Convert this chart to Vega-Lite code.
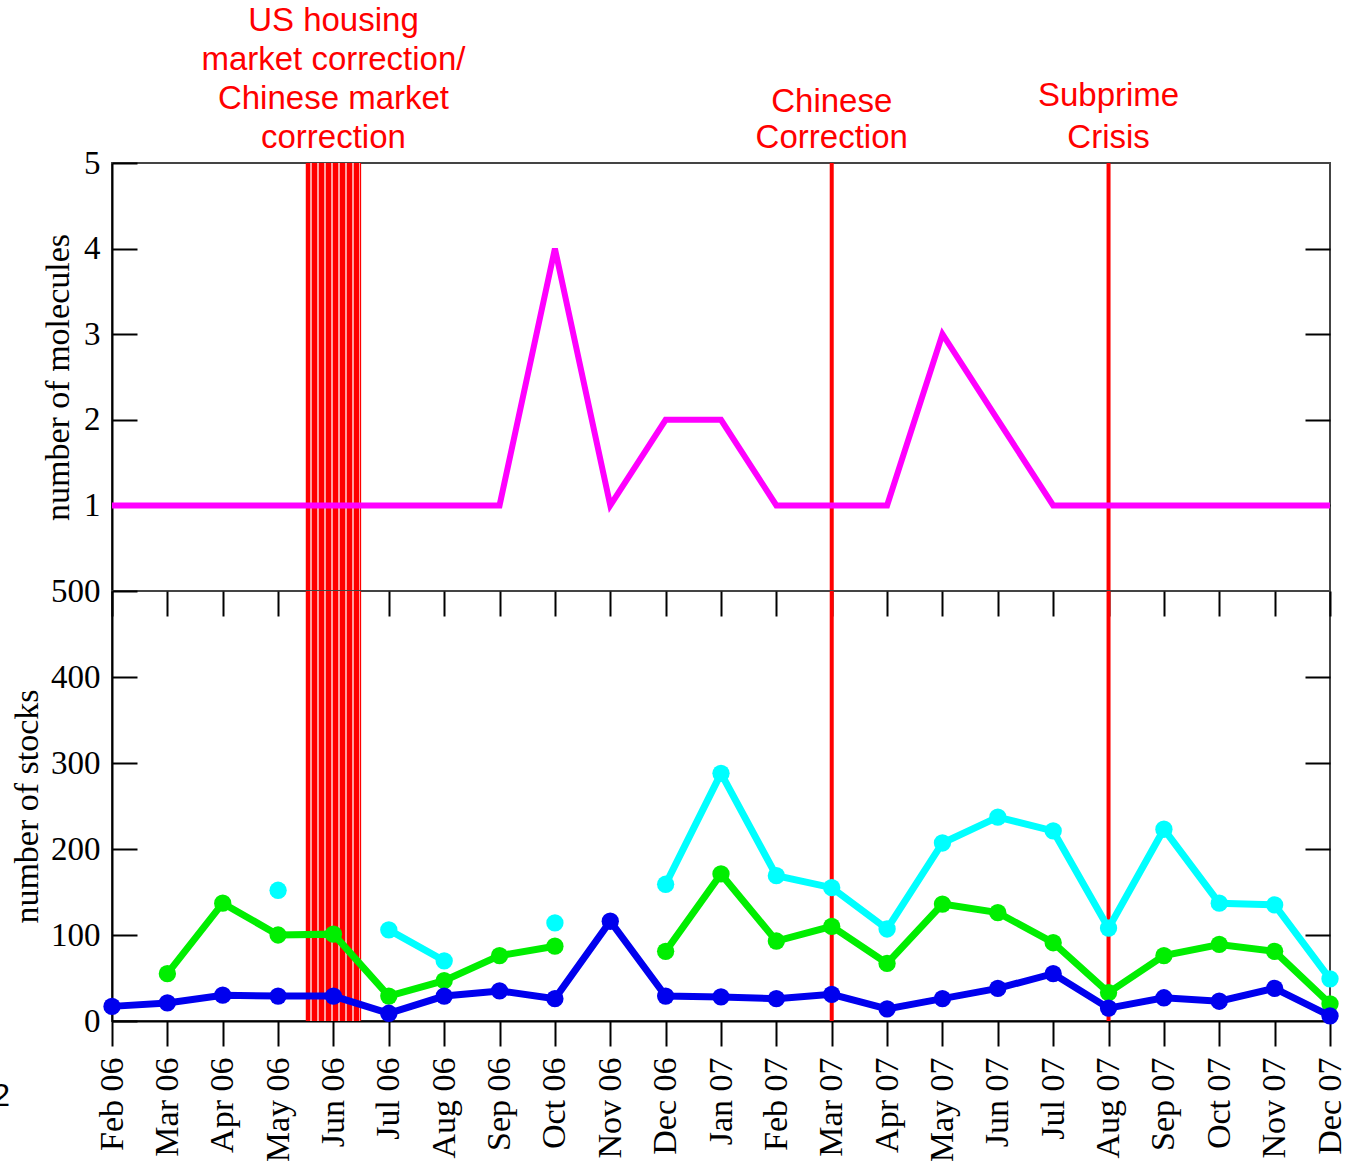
{
  "$schema": "https://vega.github.io/schema/vega-lite/v6.json",
  "padding": {"left": -9, "top": 4, "right": 0, "bottom": 0},
  "spacing": 0,
  "bounds": "flush",
  "datasets": {
    "molecules": [
      {"m": 0, "v": 1}, {"m": 1, "v": 1}, {"m": 2, "v": 1}, {"m": 3, "v": 1},
      {"m": 4, "v": 1}, {"m": 5, "v": 1}, {"m": 6, "v": 1}, {"m": 7, "v": 1},
      {"m": 8, "v": 4}, {"m": 9, "v": 1}, {"m": 10, "v": 2}, {"m": 11, "v": 2},
      {"m": 12, "v": 1}, {"m": 13, "v": 1}, {"m": 14, "v": 1}, {"m": 15, "v": 3},
      {"m": 16, "v": 2}, {"m": 17, "v": 1}, {"m": 18, "v": 1}, {"m": 19, "v": 1},
      {"m": 20, "v": 1}, {"m": 21, "v": 1}, {"m": 22, "v": 1}
    ],
    "stocks": [
      {"m": 0, "blue": 17, "green": null, "cyan": null},
      {"m": 1, "blue": 21, "green": 55, "cyan": null},
      {"m": 2, "blue": 30, "green": 137, "cyan": null},
      {"m": 3, "blue": 29, "green": 100, "cyan": 152},
      {"m": 4, "blue": 29, "green": 101, "cyan": null},
      {"m": 5, "blue": 9, "green": 29, "cyan": 106},
      {"m": 6, "blue": 29, "green": 47, "cyan": 70},
      {"m": 7, "blue": 35, "green": 76, "cyan": null},
      {"m": 8, "blue": 26, "green": 87, "cyan": 114},
      {"m": 9, "blue": 116, "green": null, "cyan": null},
      {"m": 10, "blue": 29, "green": 81, "cyan": 159},
      {"m": 11, "blue": 28, "green": 171, "cyan": 288},
      {"m": 12, "blue": 26, "green": 93, "cyan": 169},
      {"m": 13, "blue": 31, "green": 110, "cyan": 155},
      {"m": 14, "blue": 14, "green": 67, "cyan": 107},
      {"m": 15, "blue": 26, "green": 136, "cyan": 207},
      {"m": 16, "blue": 38, "green": 126, "cyan": 237},
      {"m": 17, "blue": 55, "green": 91, "cyan": 221},
      {"m": 18, "blue": 15, "green": 33, "cyan": 108},
      {"m": 19, "blue": 27, "green": 76, "cyan": 223},
      {"m": 20, "blue": 23, "green": 89, "cyan": 137},
      {"m": 21, "blue": 38, "green": 81, "cyan": 135},
      {"m": 22, "blue": 6, "green": 20, "cyan": 49}
    ],
    "band": [{"from": 3.5, "to": 4.5}],
    "events": [{"m": 13}, {"m": 18}],
    "notes": [
      {"m": 4, "label": "US housing\nmarket correction/\nChinese market\ncorrection"},
      {"m": 13, "label": "Chinese\nCorrection"},
      {"m": 18, "label": "Subprime\nCrisis"}
    ],
    "panel": [{"label": "2"}]
  },
  "config": {
    "view": {"stroke": "#444", "strokeWidth": 2},
    "axis": {
      "grid": false,
      "labelFont": "Liberation Serif",
      "labelFontSize": 33,
      "labelColor": "#000",
      "titleFont": "Liberation Serif",
      "titleFontSize": 34,
      "titleFontWeight": "normal",
      "titleColor": "#000",
      "tickColor": "#000",
      "tickWidth": 2,
      "domainColor": "#000",
      "domainWidth": 2
    }
  },
  "vconcat": [
    {
      "width": 1218,
      "height": 428,
      "resolve": {"axis": {"y": "independent"}},
      "layer": [
        {
          "data": {"name": "band"},
          "mark": {
            "type": "rect",
            "fill": {
              "gradient": "linear",
              "stops": [
                {"offset": 0, "color": "#ff0000"}, {"offset": 0.08, "color": "#ff0000"}, {"offset": 0.08, "color": "#ffa0a0"}, {"offset": 0.115, "color": "#ffa0a0"},
                {"offset": 0.115, "color": "#ff0000"}, {"offset": 0.205, "color": "#ff0000"}, {"offset": 0.205, "color": "#ffa0a0"}, {"offset": 0.24, "color": "#ffa0a0"},
                {"offset": 0.24, "color": "#ff0000"}, {"offset": 0.33, "color": "#ff0000"}, {"offset": 0.33, "color": "#ffa0a0"}, {"offset": 0.365, "color": "#ffa0a0"},
                {"offset": 0.365, "color": "#ff0000"}, {"offset": 0.455, "color": "#ff0000"}, {"offset": 0.455, "color": "#ffa0a0"}, {"offset": 0.49, "color": "#ffa0a0"},
                {"offset": 0.49, "color": "#ff0000"}, {"offset": 0.58, "color": "#ff0000"}, {"offset": 0.58, "color": "#ffa0a0"}, {"offset": 0.615, "color": "#ffa0a0"},
                {"offset": 0.615, "color": "#ff0000"}, {"offset": 0.705, "color": "#ff0000"}, {"offset": 0.705, "color": "#ffa0a0"}, {"offset": 0.74, "color": "#ffa0a0"},
                {"offset": 0.74, "color": "#ff0000"}, {"offset": 0.83, "color": "#ff0000"}, {"offset": 0.83, "color": "#ffa0a0"}, {"offset": 0.865, "color": "#ffa0a0"},
                {"offset": 0.865, "color": "#ff0000"}, {"offset": 0.955, "color": "#ff0000"}, {"offset": 0.955, "color": "#ffa0a0"}, {"offset": 0.975, "color": "#ffa0a0"},
                {"offset": 0.975, "color": "#ff0000"}, {"offset": 1, "color": "#ff0000"}
              ]
            }
          },
          "encoding": {
            "x": {"field": "from", "type": "quantitative", "scale": {"domain": [0, 22], "nice": false, "zero": false}, "axis": null},
            "x2": {"field": "to"}
          }
        },
        {
          "data": {"name": "events"},
          "mark": {"type": "rule", "color": "#ff0000", "strokeWidth": 4},
          "encoding": {
            "x": {"field": "m", "type": "quantitative", "axis": null}
          }
        },
        {
          "data": {"name": "molecules"},
          "mark": {"type": "line", "color": "#ff00ff", "strokeWidth": 6},
          "encoding": {
            "x": {"field": "m", "type": "quantitative", "axis": null},
            "y": {
              "field": "v", "type": "quantitative",
              "scale": {"domain": [0, 5], "nice": false, "zero": false},
              "axis": {"orient": "left", "values": [1, 2, 3, 4, 5], "tickSize": -25, "labelPadding": 37, "labelFlush": false, "title": "number of molecules", "titlePadding": 8}
            }
          }
        },
        {
          "data": {"name": "molecules"},
          "mark": {"type": "point", "opacity": 0},
          "encoding": {
            "x": {"field": "m", "type": "quantitative", "axis": null},
            "y": {
              "field": "v", "type": "quantitative",
              "scale": {"domain": [0, 5], "nice": false, "zero": false},
              "axis": {"orient": "right", "values": [1, 2, 3, 4], "tickSize": -25, "labels": false, "title": null, "domain": false}
            }
          }
        },
        {
          "data": {"name": "notes"},
          "transform": [{"filter": "datum.m == 4"}],
          "mark": {"type": "text", "color": "#ff0000", "font": "Liberation Sans", "fontSize": 33, "lineBreak": "\n", "lineHeight": 39, "align": "center", "baseline": "middle", "dy": -142},
          "encoding": {
            "x": {"field": "m", "type": "quantitative", "axis": null},
            "y": {"datum": 5, "type": "quantitative", "axis": null},
            "text": {"field": "label"}
          }
        },
        {
          "data": {"name": "notes"},
          "transform": [{"filter": "datum.m == 13"}],
          "mark": {"type": "text", "color": "#ff0000", "font": "Liberation Sans", "fontSize": 33, "lineBreak": "\n", "lineHeight": 36, "align": "center", "baseline": "middle", "dy": -61},
          "encoding": {
            "x": {"field": "m", "type": "quantitative", "axis": null},
            "y": {"datum": 5, "type": "quantitative", "axis": null},
            "text": {"field": "label"}
          }
        },
        {
          "data": {"name": "notes"},
          "transform": [{"filter": "datum.m == 18"}],
          "mark": {"type": "text", "color": "#ff0000", "font": "Liberation Sans", "fontSize": 33, "lineBreak": "\n", "lineHeight": 42, "align": "center", "baseline": "middle", "dy": -67},
          "encoding": {
            "x": {"field": "m", "type": "quantitative", "axis": null},
            "y": {"datum": 5, "type": "quantitative", "axis": null},
            "text": {"field": "label"}
          }
        }
      ]
    },
    {
      "width": 1218,
      "height": 430,
      "resolve": {"axis": {"x": "independent", "y": "independent"}},
      "layer": [
        {
          "data": {"name": "band"},
          "mark": {
            "type": "rect",
            "fill": {
              "gradient": "linear",
              "stops": [
                {"offset": 0, "color": "#ff0000"}, {"offset": 0.08, "color": "#ff0000"}, {"offset": 0.08, "color": "#ffa0a0"}, {"offset": 0.115, "color": "#ffa0a0"},
                {"offset": 0.115, "color": "#ff0000"}, {"offset": 0.205, "color": "#ff0000"}, {"offset": 0.205, "color": "#ffa0a0"}, {"offset": 0.24, "color": "#ffa0a0"},
                {"offset": 0.24, "color": "#ff0000"}, {"offset": 0.33, "color": "#ff0000"}, {"offset": 0.33, "color": "#ffa0a0"}, {"offset": 0.365, "color": "#ffa0a0"},
                {"offset": 0.365, "color": "#ff0000"}, {"offset": 0.455, "color": "#ff0000"}, {"offset": 0.455, "color": "#ffa0a0"}, {"offset": 0.49, "color": "#ffa0a0"},
                {"offset": 0.49, "color": "#ff0000"}, {"offset": 0.58, "color": "#ff0000"}, {"offset": 0.58, "color": "#ffa0a0"}, {"offset": 0.615, "color": "#ffa0a0"},
                {"offset": 0.615, "color": "#ff0000"}, {"offset": 0.705, "color": "#ff0000"}, {"offset": 0.705, "color": "#ffa0a0"}, {"offset": 0.74, "color": "#ffa0a0"},
                {"offset": 0.74, "color": "#ff0000"}, {"offset": 0.83, "color": "#ff0000"}, {"offset": 0.83, "color": "#ffa0a0"}, {"offset": 0.865, "color": "#ffa0a0"},
                {"offset": 0.865, "color": "#ff0000"}, {"offset": 0.955, "color": "#ff0000"}, {"offset": 0.955, "color": "#ffa0a0"}, {"offset": 0.975, "color": "#ffa0a0"},
                {"offset": 0.975, "color": "#ff0000"}, {"offset": 1, "color": "#ff0000"}
              ]
            }
          },
          "encoding": {
            "x": {"field": "from", "type": "quantitative", "scale": {"domain": [0, 22], "nice": false, "zero": false}, "axis": null},
            "x2": {"field": "to"}
          }
        },
        {
          "data": {"name": "events"},
          "mark": {"type": "rule", "color": "#ff0000", "strokeWidth": 4},
          "encoding": {
            "x": {"field": "m", "type": "quantitative", "axis": null}
          }
        },
        {
          "data": {"name": "stocks"},
          "mark": {"type": "point", "opacity": 0},
          "encoding": {
            "x": {"field": "m", "type": "quantitative", "axis": {"orient": "top", "values": [0, 1, 2, 3, 4, 5, 6, 7, 8, 9, 10, 11, 12, 13, 14, 15, 16, 17, 18, 19, 20, 21, 22], "tickSize": -25, "labels": false, "title": null, "domain": false}},
            "y": {"field": "blue", "type": "quantitative", "scale": {"domain": [0, 500], "nice": false, "zero": false}, "axis": {"orient": "right", "values": [100, 200, 300, 400], "tickSize": -25, "labels": false, "title": null, "domain": false}}
          }
        },
        {
          "data": {"name": "stocks"},
          "mark": {"type": "line", "color": "#00ffff", "strokeWidth": 7, "point": {"filled": true, "size": 300, "color": "#00ffff", "opacity": 1}},
          "encoding": {
            "x": {"field": "m", "type": "quantitative", "axis": null},
            "y": {"field": "cyan", "type": "quantitative", "axis": null}
          }
        },
        {
          "data": {"name": "stocks"},
          "mark": {"type": "line", "color": "#00ee00", "strokeWidth": 7, "point": {"filled": true, "size": 300, "color": "#00ee00", "opacity": 1}},
          "encoding": {
            "x": {"field": "m", "type": "quantitative", "axis": null},
            "y": {"field": "green", "type": "quantitative", "axis": null}
          }
        },
        {
          "data": {"name": "stocks"},
          "mark": {"type": "line", "color": "#0000ee", "strokeWidth": 7, "point": {"filled": true, "size": 300, "color": "#0000ee", "opacity": 1}},
          "encoding": {
            "x": {
              "field": "m", "type": "quantitative",
              "axis": {
                "orient": "bottom", "values": [0, 1, 2, 3, 4, 5, 6, 7, 8, 9, 10, 11, 12, 13, 14, 15, 16, 17, 18, 19, 20, 21, 22],
                "tickSize": 25, "labelPadding": 11, "labelAngle": -90, "labelOverlap": false, "labelFlush": false, "labelFontSize": 34, "title": null,
                "labelExpr": "['Feb 06','Mar 06','Apr 06','May 06','Jun 06','Jul 06','Aug 06','Sep 06','Oct 06','Nov 06','Dec 06','Jan 07','Feb 07','Mar 07','Apr 07','May 07','Jun 07','Jul 07','Aug 07','Sep 07','Oct 07','Nov 07','Dec 07'][datum.value]"
              }
            },
            "y": {
              "field": "blue", "type": "quantitative",
              "axis": {"orient": "left", "values": [0, 100, 200, 300, 400, 500], "tickSize": -25, "labelPadding": 37, "labelFlush": false, "title": "number of stocks", "titlePadding": 6}
            }
          }
        },
        {
          "data": {"name": "panel"},
          "mark": {"type": "text", "font": "Liberation Sans", "fontSize": 32, "color": "#000", "align": "right", "baseline": "middle"},
          "encoding": {
            "x": {"datum": -1.84, "type": "quantitative", "axis": null},
            "y": {"datum": -87, "type": "quantitative", "axis": null},
            "text": {"field": "label"}
          }
        }
      ]
    }
  ]
}
